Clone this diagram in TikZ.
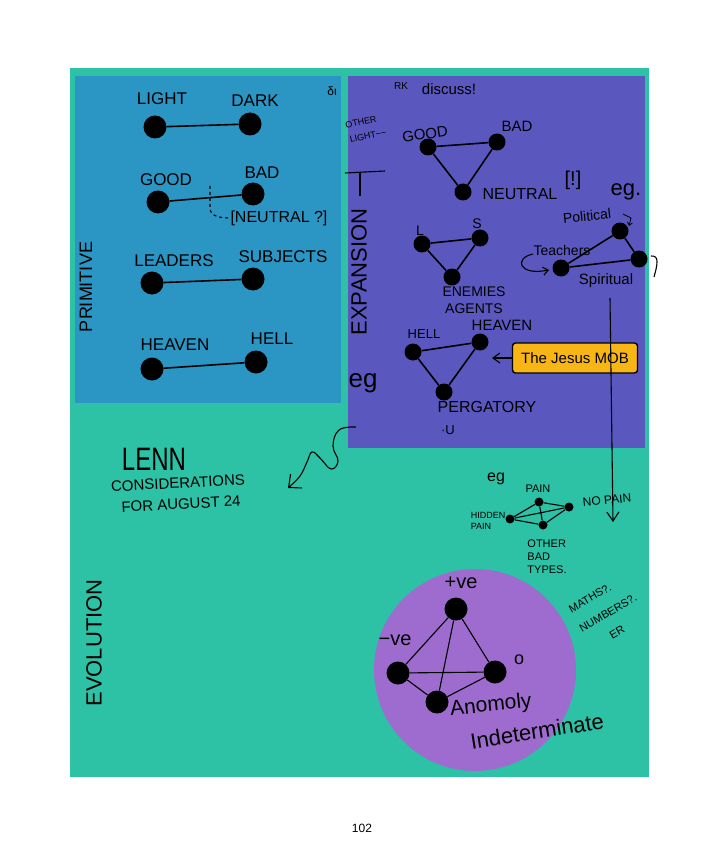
\documentclass[tikz,border=0pt]{standalone}
\usepackage{fontspec}
\setmainfont{Liberation Sans}
\usetikzlibrary{arrows.meta}
\definecolor{tealbg}{RGB}{45,193,166}
\definecolor{bluebg}{RGB}{43,149,196}
\definecolor{purpbg}{RGB}{90,87,190}
\definecolor{lavbg}{RGB}{157,108,206}
\definecolor{mobyellow}{RGB}{247,182,22}
\newcommand{\fs}[1]{\fontsize{#1}{1.2\dimexpr #1pt\relax}\selectfont}
\begin{document}
\begin{tikzpicture}[x=1pt,y=-1pt,
  bigdot/.style={circle,fill=black,inner sep=0pt,minimum size=23pt},
  middot/.style={circle,fill=black,inner sep=0pt,minimum size=17pt},
  smalldot/.style={circle,fill=black,inner sep=0pt,minimum size=9pt},
  lbl/.style={inner sep=0pt,text=black},
  edge/.style={line width=1.6pt,draw=black},
  thin/.style={line width=1.1pt,draw=black}]
\useasboundingbox (0,0) rectangle (720,850);
\fill[white] (0,0) rectangle (720,850);
\fill[tealbg] (70,68) rectangle (649,777);
\fill[bluebg] (75,76) rectangle (341,403);
\fill[purpbg] (348,76) rectangle (645,448);
\fill[lavbg] (475,670) circle (101pt);

% ---------- Primitive panel ----------
\node[lbl,font=\fs{17}] (tlight) at (162,99) {LIGHT};
\node[lbl,font=\fs{17}] (tdark) at (255,101) {DARK};
\node[lbl,font=\fs{12}] (tdi) at (332,91) {δι};
\node[bigdot] (dlight) at (155,127) {};
\node[bigdot] (ddark) at (250,124) {};
\draw[edge] (dlight) -- (ddark);

\node[lbl,font=\fs{17}] (tgood) at (166,180) {GOOD};
\node[lbl,font=\fs{17}] (tbad) at (262,173) {BAD};
\node[bigdot] (dgood) at (158,202) {};
\node[bigdot] (dbad) at (253,194) {};
\draw[edge] (dgood) -- (dbad);
\node[lbl,font=\fs{16}] (tneut) at (279,218) {[NEUTRAL ?]};
\coordinate (nq) at (210,186);
\draw[thin,dashed] (nq) -- ++(0,22) to[out=-90,in=180] (tneut.west);

\node[lbl,font=\fs{17}] (tleaders) at (174,261) {LEADERS};
\node[lbl,font=\fs{17}] (tsubj) at (283,257) {SUBJECTS};
\node[bigdot] (dleaders) at (152,283) {};
\node[bigdot] (dsubj) at (253,279) {};
\draw[edge] (dleaders) -- (dsubj);

\node[lbl,font=\fs{17}] (theaven) at (175,345) {HEAVEN};
\node[lbl,font=\fs{17}] (thell) at (272,339) {HELL};
\node[bigdot] (dheaven) at (152,369) {};
\node[bigdot] (dhell) at (256,362) {};
\draw[edge] (dheaven) -- (dhell);

\node[lbl,font=\fs{18},rotate=90] (tprim) at (86,287) {PRIMITIVE};

% ---------- Expansion panel ----------
\node[lbl,font=\fs{10}] (trk) at (401,86) {RK};
\node[lbl,font=\fs{15}] (tdiscuss) at (449,89) {discuss!};
\node[lbl,font=\fs{9},rotate=12] (tother) at (361,122) {OTHER};
\node[lbl,font=\fs{9},rotate=12] (tlightw) at (368,136) {LIGHT\textasciitilde\textasciitilde};
\node[lbl,font=\fs{15},rotate=8] (tgood2) at (425,134) {GOOD};
\node[lbl,font=\fs{15}] (tbad2) at (517,126) {BAD};
\node[middot] (dgood2) at (428,147) {};
\node[middot] (dbad2) at (497,142) {};
\node[middot] (dneut2) at (463,192) {};
\draw[edge] (dgood2) -- (dbad2) -- (dneut2) -- (dgood2);
\node[lbl,font=\fs{16}] (tneut2) at (520,194) {NEUTRAL};
\node[lbl,font=\fs{20}] (tbang) at (573,180) {[!]};

\draw[thin] (345,173) -- (385,171);
\draw[thin] (360,173) -- (360,196);
\node[lbl,font=\fs{22},rotate=90] (texp) at (359,272) {EXPANSION};

\node[lbl,font=\fs{14}] (tL) at (420,231) {L};
\node[lbl,font=\fs{14}] (tS) at (477,224) {S};
\node[middot] (dL) at (422,244) {};
\node[middot] (dS) at (480,238) {};
\node[middot] (dEA) at (452,277) {};
\draw[edge] (dL) -- (dS) -- (dEA) -- (dL);
\node[lbl,font=\fs{14},align=center] (tenem) at (474,300) {ENEMIES\\AGENTS};

\node[lbl,font=\fs{13}] (thell2) at (424,334) {HELL};
\node[lbl,font=\fs{15}] (theaven2) at (502,325) {HEAVEN};
\node[middot] (dhell2) at (413,352) {};
\node[middot] (dheaven2) at (480,342) {};
\node[middot] (dperg) at (444,392) {};
\draw[edge] (dhell2) -- (dheaven2) -- (dperg) -- (dhell2);
\node[lbl,font=\fs{16}] (tperg) at (487,407) {PERGATORY};
\node[lbl,font=\fs{13}] (tu) at (448,430) {·U};
\node[lbl,font=\fs{26}] (teg1) at (363,383) {eg};

\node[draw=black,line width=1.4pt,fill=mobyellow,rounded corners=3pt,
      minimum width=125pt,minimum height=30pt,inner sep=2pt,font=\fs{15}] (badge) at (575,358) {The Jesus MOB};
\coordinate (mobtip) at (492,358);
\draw[thin,-{Straight Barb[length=7pt,width=10pt]}] (badge.west) -- (mobtip);

\node[lbl,font=\fs{14},rotate=6] (tpol) at (587,216) {Political};
\node[lbl,font=\fs{22}] (teg2) at (626,192) {eg.};
\node[middot] (dpol) at (620,231) {};
\node[middot] (dteach) at (561,268) {};
\node[middot] (dspir) at (639,259) {};
\node[lbl,font=\fs{14}] (tteach) at (562,250) {Teachers};
\draw[edge] (dpol) -- (dteach) -- (dspir) -- (dpol);
\node[lbl,font=\fs{15}] (tspir) at (606,281) {Spiritual};
\coordinate (ca1) at (533,254);
\coordinate (ca2) at (549,270);
\draw[thin,-{Straight Barb[length=5pt,width=8pt]}] (ca1) .. controls (514,258) and (518,276) .. (ca2);
\coordinate (hk1) at (651,256);
\coordinate (hk2) at (654,277);
\draw[thin] (hk1) .. controls (660,255) and (657,266) .. (hk2);
\coordinate (pa1) at (623,214);
\coordinate (pa2) at (629,226);
\draw[line width=0.8pt,-{Straight Barb[length=3pt,width=5pt]}] (pa1) -- (631,218) -- (pa2);

\coordinate (va1) at (610,298);
\coordinate (va2) at (613,522);
\draw[thin,-{Straight Barb[length=9pt,width=12pt]}] (va1) -- (va2);

% ---------- wavy arrow to LENN ----------
\coordinate (w1) at (356,427);
\coordinate (w2) at (288,488);
\draw[thin,-{Straight Barb[length=10pt,width=18pt]}] plot[smooth,tension=0.7] coordinates {(w1) (339,430) (333,446) (338,461) (331,469) (320,458) (312,452) (307,462) (300,476) (w2)};

\node[lbl,font=\fs{24},yscale=1.35] (tlenn) at (154,459) {LENN};
\node[lbl,font=\fs{15},rotate=3] (tcons) at (178,483) {CONSIDERATIONS};
\node[lbl,font=\fs{15},rotate=3] (tfor) at (181,504) {FOR AUGUST 24};

% ---------- pain graph ----------
\node[lbl,font=\fs{16}] (teg3) at (496,479) {eg};
\node[lbl,font=\fs{11}] (tpain) at (538,489) {PAIN};
\node[lbl,font=\fs{12},rotate=5] (tnopain) at (607,500) {NO PAIN};
\node[lbl,font=\fs{9},align=left] (thidden) at (488,521) {HIDDEN\\PAIN};
\node[lbl,font=\fs{11},align=left] (tother3) at (547,557) {OTHER\\BAD\\TYPES.};
\node[smalldot] (dpain) at (539,502) {};
\node[smalldot] (dnopain) at (569,507) {};
\node[smalldot] (dhid) at (510,519) {};
\node[smalldot] (doth) at (543,525) {};
\draw[thin] (dhid) -- (dpain) -- (dnopain) -- (doth) -- (dhid);
\draw[thin] (dhid) -- (dnopain);
\draw[thin] (dpain) -- (doth);

% ---------- evolution circle ----------
\node[lbl,font=\fs{20}] (tpve) at (461,583) {+ve};
\node[lbl,font=\fs{20}] (tnve) at (395,640) {−ve};
\node[lbl,font=\fs{18}] (tzero) at (519,660) {o};
\node[bigdot] (dtop) at (456,609) {};
\node[bigdot] (dleft) at (398,673) {};
\node[bigdot] (dright) at (495,672) {};
\node[bigdot] (dbot) at (437,702) {};
\draw[thin] (dtop) -- (dleft);
\draw[thin] (dtop) -- (dright);
\draw[thin] (dtop) -- (dbot);
\draw[thin] (dleft) -- (dright);
\draw[thin] (dleft) -- (dbot);
\draw[thin] (dbot) -- (dright);
\node[lbl,font=\fs{21},rotate=6] (tanom) at (491,706) {Anomoly};
\node[lbl,font=\fs{22},rotate=9] (tind) at (537,731) {Indeterminate};
\node[lbl,font=\fs{11},rotate=30] (tmath1) at (590,598) {MATHS?.};
\node[lbl,font=\fs{11},rotate=30] (tmath2) at (608,613) {NUMBERS?.};
\node[lbl,font=\fs{11},rotate=30] (tmath3) at (617,632) {ER};

\node[lbl,font=\fs{22},rotate=90] (tevol) at (94,643) {EVOLUTION};
\node[lbl,font=\fs{12}] (tpage) at (362,828) {102};
\end{tikzpicture}
\end{document}
